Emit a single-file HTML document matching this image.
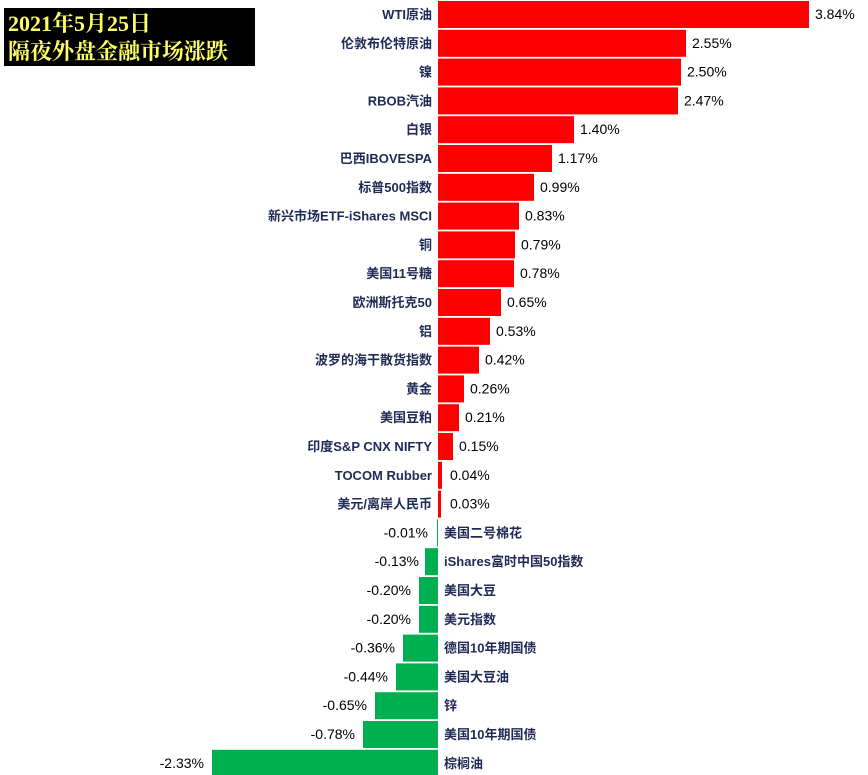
<!DOCTYPE html>
<html><head><meta charset="utf-8"><style>
html,body{margin:0;padding:0;background:#fff;}
svg{display:block;}
.l{font-family:"Liberation Sans","Noto Sans CJK SC",sans-serif;font-weight:bold;font-size:13px;fill:#1f2a55;}
.v{font-family:"Liberation Sans",sans-serif;font-size:14px;fill:#000;}
.t{font-family:"Liberation Serif","Noto Serif CJK SC",serif;font-size:22px;font-weight:bold;fill:#ffff66;}
</style></head><body>
<svg id="s" width="868" height="775" xmlns="http://www.w3.org/2000/svg">
<rect x="4" y="8" width="251" height="58" fill="#000"/>
<text class="t" x="8" y="31">2021年5月25日</text>
<text class="t" x="8" y="59">隔夜外盘金融市场涨跌</text>
<g id="g">
<rect x="438" y="1" width="371" height="27" fill="#ff0000"/><text class="l" x="432" y="19" text-anchor="end">WTI原油</text><text class="v" x="815" y="19">3.84%</text>
<rect x="438" y="29.8" width="248" height="27" fill="#ff0000"/><text class="l" x="432" y="47.8" text-anchor="end">伦敦布伦特原油</text><text class="v" x="692" y="47.8">2.55%</text>
<rect x="438" y="58.6" width="243" height="27" fill="#ff0000"/><text class="l" x="432" y="76.6" text-anchor="end">镍</text><text class="v" x="687" y="76.6">2.50%</text>
<rect x="438" y="87.4" width="240" height="27" fill="#ff0000"/><text class="l" x="432" y="105.4" text-anchor="end">RBOB汽油</text><text class="v" x="684" y="105.4">2.47%</text>
<rect x="438" y="116.2" width="136" height="27" fill="#ff0000"/><text class="l" x="432" y="134.2" text-anchor="end">白银</text><text class="v" x="580" y="134.2">1.40%</text>
<rect x="438" y="145" width="114" height="27" fill="#ff0000"/><text class="l" x="432" y="163" text-anchor="end">巴西IBOVESPA</text><text class="v" x="558" y="163">1.17%</text>
<rect x="438" y="173.8" width="96" height="27" fill="#ff0000"/><text class="l" x="432" y="191.8" text-anchor="end">标普500指数</text><text class="v" x="540" y="191.8">0.99%</text>
<rect x="438" y="202.6" width="81" height="27" fill="#ff0000"/><text class="l" x="432" y="220.6" text-anchor="end">新兴市场ETF-iShares MSCI</text><text class="v" x="525" y="220.6">0.83%</text>
<rect x="438" y="231.4" width="77" height="27" fill="#ff0000"/><text class="l" x="432" y="249.4" text-anchor="end">铜</text><text class="v" x="521" y="249.4">0.79%</text>
<rect x="438" y="260.2" width="76" height="27" fill="#ff0000"/><text class="l" x="432" y="278.2" text-anchor="end">美国11号糖</text><text class="v" x="520" y="278.2">0.78%</text>
<rect x="438" y="289" width="63" height="27" fill="#ff0000"/><text class="l" x="432" y="307" text-anchor="end">欧洲斯托克50</text><text class="v" x="507" y="307">0.65%</text>
<rect x="438" y="317.8" width="52" height="27" fill="#ff0000"/><text class="l" x="432" y="335.8" text-anchor="end">铝</text><text class="v" x="496" y="335.8">0.53%</text>
<rect x="438" y="346.6" width="41" height="27" fill="#ff0000"/><text class="l" x="432" y="364.6" text-anchor="end">波罗的海干散货指数</text><text class="v" x="485" y="364.6">0.42%</text>
<rect x="438" y="375.4" width="26" height="27" fill="#ff0000"/><text class="l" x="432" y="393.4" text-anchor="end">黄金</text><text class="v" x="470" y="393.4">0.26%</text>
<rect x="438" y="404.2" width="21" height="27" fill="#ff0000"/><text class="l" x="432" y="422.2" text-anchor="end">美国豆粕</text><text class="v" x="465" y="422.2">0.21%</text>
<rect x="438" y="433" width="15" height="27" fill="#ff0000"/><text class="l" x="432" y="451" text-anchor="end">印度S&amp;P CNX NIFTY</text><text class="v" x="459" y="451">0.15%</text>
<rect x="438" y="461.8" width="4" height="27" fill="#ff0000"/><text class="l" x="432" y="479.8" text-anchor="end">TOCOM Rubber</text><text class="v" x="450" y="479.8">0.04%</text>
<rect x="438" y="490.6" width="3" height="27" fill="#ff0000"/><text class="l" x="432" y="508.6" text-anchor="end">美元/离岸人民币</text><text class="v" x="450" y="508.6">0.03%</text>
<rect x="437" y="519.4" width="1" height="27" fill="#00b050"/><text class="l" x="444" y="537.4">美国二号棉花</text><text class="v" x="428" y="537.4" text-anchor="end">-0.01%</text>
<rect x="425" y="548.2" width="13" height="27" fill="#00b050"/><text class="l" x="444" y="566.2">iShares富时中国50指数</text><text class="v" x="419" y="566.2" text-anchor="end">-0.13%</text>
<rect x="419" y="577" width="19" height="27" fill="#00b050"/><text class="l" x="444" y="595">美国大豆</text><text class="v" x="411" y="595" text-anchor="end">-0.20%</text>
<rect x="419" y="605.8" width="19" height="27" fill="#00b050"/><text class="l" x="444" y="623.8">美元指数</text><text class="v" x="411" y="623.8" text-anchor="end">-0.20%</text>
<rect x="403" y="634.6" width="35" height="27" fill="#00b050"/><text class="l" x="444" y="652.6">德国10年期国债</text><text class="v" x="395" y="652.6" text-anchor="end">-0.36%</text>
<rect x="396" y="663.4" width="42" height="27" fill="#00b050"/><text class="l" x="444" y="681.4">美国大豆油</text><text class="v" x="388" y="681.4" text-anchor="end">-0.44%</text>
<rect x="375" y="692.2" width="63" height="27" fill="#00b050"/><text class="l" x="444" y="710.2">锌</text><text class="v" x="367" y="710.2" text-anchor="end">-0.65%</text>
<rect x="363" y="721" width="75" height="27" fill="#00b050"/><text class="l" x="444" y="739">美国10年期国债</text><text class="v" x="355" y="739" text-anchor="end">-0.78%</text>
<rect x="212" y="749.8" width="226" height="26" fill="#00b050"/><text class="l" x="444" y="767.8">棕榈油</text><text class="v" x="204" y="767.8" text-anchor="end">-2.33%</text>
</g>
</svg>
</body></html>
